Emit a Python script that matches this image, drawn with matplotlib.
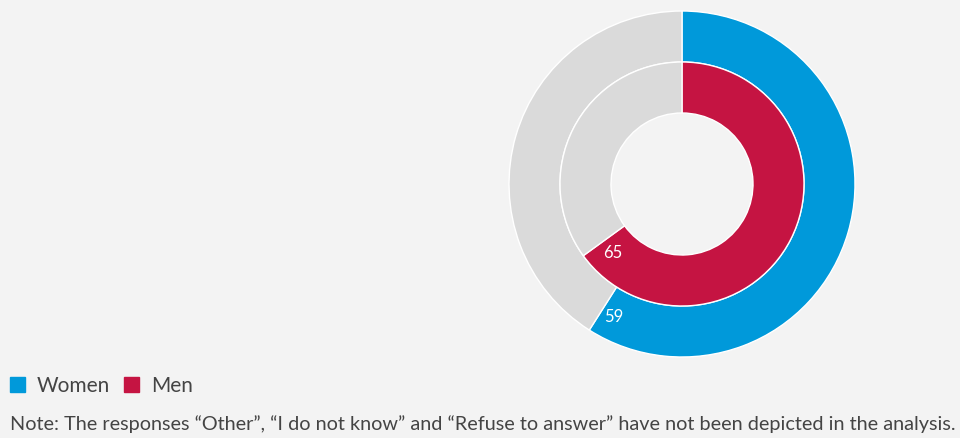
import numpy as np
import matplotlib.pyplot as plt

# data
groups = ["Women", "Men"]
shares = [59, 65]
colors = ["#0099DA", "#C51442"]
rest_color = "#DADADA"
bg = "#F3F3F3"
note = ("Note: The responses \u201cOther\u201d, \u201cI do not know\u201d and "
        "\u201cRefuse to answer\u201d have not been depicted in the analysis.")

plt.rcParams['font.family'] = ['Lato', 'DejaVu Sans']

fig = plt.figure(figsize=(9.6, 4.39), dpi=100, facecolor=bg)
W, H = 960, 439
cx, cy, R = 682, 185, 173
ax = fig.add_axes([(cx - R) / W, (H - cy - R) / H, 2 * R / W, 2 * R / H])
ax.set_facecolor(bg)

radii = [1.0, 122 / R]
width = 51 / R
for v, c, r in zip(shares, colors, radii):
    ax.pie([v, 100 - v], colors=[c, rest_color], radius=r, startangle=90,
           counterclock=False,
           wedgeprops=dict(width=width, edgecolor='white', linewidth=1))
    # value label near the end of the coloured segment
    mid_r = r - width / 2
    ang = 90 - 360 * v / 100 + 13 / (mid_r * R) * 180 / np.pi
    a = np.deg2rad(ang)
    ax.text(mid_r * np.cos(a), mid_r * np.sin(a) - 0.005, str(v), color='white',
            fontsize=12, ha='center', va='center')

ax.set_xlim(-1, 1)
ax.set_ylim(-1, 1)
ax.set_aspect('equal')
ax.axis('off')

# legend
txt_col = "#444444"
x = 10
for g, c in zip(groups, colors):
    fig.patches.append(plt.Rectangle((x / W, (H - 393) / H), 15 / W, 15 / H,
                                     transform=fig.transFigure, color=c))
    t = fig.text((x + 27) / W, (H - 386) / H, g, fontsize=15, color=txt_col,
                 va='center', ha='left')
    fig.canvas.draw()
    bb = t.get_window_extent()
    x = bb.x1 + 14

fig.text(10 / W, (H - 424) / H, note, fontsize=14.3, color=txt_col,
         va='center', ha='left')

fig.savefig("out.png", dpi=100, facecolor=bg)
